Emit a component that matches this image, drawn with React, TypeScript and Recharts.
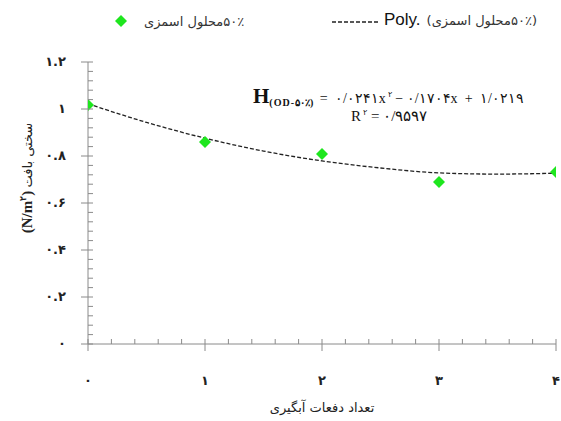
import React from "react";
import { ComposedChart, Line, Scatter, XAxis, YAxis } from "recharts";

// measured points (50% osmotic solution)
const DIPS = [0, 1, 2, 3, 4];
const HARDNESS = [1.017, 0.86, 0.809, 0.689, 0.732];

// polynomial trend line
const TREND_X = [0, 0.5, 1, 1.5, 2, 2.5, 3, 3.5, 4];
const TREND_H = [1.022, 0.943, 0.876, 0.821, 0.779, 0.749, 0.728, 0.723, 0.727];

const X_LABELS = ["۰", "۱", "۲", "۳", "۴"];
const Y_LABELS = ["۰", "۰.۲", "۰.۴", "۰.۶", "۰.۸", "۱", "۱.۲"];

const X_TICKS = Array.from({ length: 21 }, (_, i) => i * 0.2);
const Y_TICKS = Array.from({ length: 31 }, (_, i) => i * 0.04);

const points = DIPS.map((x, i) => ({ x, h: HARDNESS[i] }));
const trend = TREND_X.map((x, i) => ({ x, h: TREND_H[i] }));

const AXIS_COLOR = "#8a8a8a";
const GREEN = "#1ee61e";
const PERSIAN = "'DejaVu Sans', sans-serif";

function XTick({ x, y, payload }: any) {
  const v = payload.value;
  const major = Math.abs(v - Math.round(v)) < 1e-6;
  return (
    <g>
      <line x1={x} x2={x} y1={y - 5} y2={major ? y + 7 : y} stroke={AXIS_COLOR} />
      {major && (
        <text x={x} y={y + 41} textAnchor="middle" fontSize={13} fontWeight="bold" fill="#222" fontFamily={PERSIAN}>
          {X_LABELS[Math.round(v)]}
        </text>
      )}
    </g>
  );
}

function YTick({ x, y, payload }: any) {
  const v = payload.value / 0.2;
  const major = Math.abs(v - Math.round(v)) < 1e-6;
  return (
    <g>
      <line x1={major ? x - 7 : x} x2={x + 5} y1={y} y2={y} stroke={AXIS_COLOR} />
      {major && (
        <text x={x - 22} y={y + 4} textAnchor="end" fontSize={13} fontWeight="bold" fill="#222" fontFamily={PERSIAN}>
          {Y_LABELS[Math.round(v)]}
        </text>
      )}
    </g>
  );
}

function Diamond({ cx, cy }: any) {
  const r = 6;
  return <polygon points={`${cx},${cy - r} ${cx + r},${cy} ${cx},${cy + r} ${cx - r},${cy}`} fill={GREEN} />;
}

export default function App() {
  return (
    <div style={{ position: "relative", width: 561, height: 421, background: "#fff" }}>
      <style>{"body{margin:0}"}</style>
      <ComposedChart width={561} height={421} margin={{ top: 62, right: 5, bottom: 0, left: 0 }}>
        <XAxis
          type="number"
          dataKey="x"
          domain={[0, 4]}
          ticks={X_TICKS}
          interval={0}
          tickSize={0}
          tickMargin={0}
          tick={<XTick />}
          height={77}
          stroke={AXIS_COLOR}
          allowDataOverflow
        />
        <YAxis
          type="number"
          dataKey="h"
          domain={[0, 1.2]}
          ticks={Y_TICKS}
          interval={0}
          tickSize={0}
          tickMargin={0}
          tick={<YTick />}
          width={88}
          stroke={AXIS_COLOR}
          allowDataOverflow
        />
        <Line
          data={trend}
          dataKey="h"
          type="monotone"
          stroke="#222"
          strokeWidth={1.3}
          strokeDasharray="4 2"
          dot={false}
          isAnimationActive={false}
        />
        <Scatter data={points} dataKey="h" shape={<Diamond />} isAnimationActive={false} />
      </ComposedChart>

      {/* legend */}
      <div style={{ position: "absolute", left: 114, top: 12, height: 18, display: "flex", alignItems: "center", whiteSpace: "nowrap", direction: "ltr" }}>
        <svg width={14} height={14}>
          <polygon points="7,1 13,7 7,13 1,7" fill={GREEN} />
        </svg>
        <span style={{ marginLeft: 16, fontFamily: PERSIAN, fontSize: 13, color: "#333" }}>
          <span dir="rtl" style={{ unicodeBidi: "isolate" }}>محلول اسمزی</span>
          <span style={{ unicodeBidi: "isolate" }}>۵۰٪</span>
        </span>
      </div>
      <div style={{ position: "absolute", left: 332, top: 10, height: 20, display: "flex", alignItems: "center", whiteSpace: "nowrap", direction: "ltr" }}>
        <svg width={48} height={10}>
          <line x1={0} x2={48} y1={7} y2={7} stroke="#222" strokeWidth={1.3} strokeDasharray="4 2" />
        </svg>
        <span style={{ marginLeft: 4, fontFamily: "'Liberation Sans', Arial, sans-serif", fontSize: 17, color: "#111" }}>Poly.</span>
        <span style={{ marginLeft: 6, fontFamily: PERSIAN, fontSize: 13, color: "#333" }}>
          (<span dir="rtl" style={{ unicodeBidi: "isolate" }}>محلول اسمزی</span>
          <span style={{ unicodeBidi: "isolate" }}>۵۰٪</span>)
        </span>
      </div>

      {/* trend equation */}
      <div style={{ position: "absolute", left: 253, top: 84, whiteSpace: "nowrap", direction: "ltr", fontFamily: "'Liberation Serif', serif", fontSize: 14, color: "#111" }}>
        <span style={{ fontSize: 21, fontWeight: "bold" }}>H</span>
        <span style={{ fontSize: 10, fontWeight: "bold", verticalAlign: "-3px", letterSpacing: 1 }}>(OD-۵۰٪)</span>
        <span style={{ letterSpacing: 1.9 }}> = ۰/۰۲۴۱x<sup style={{ fontSize: 8 }}>۲</sup> − ۰/۱۷۰۴x + ۱/۰۲۱۹</span>
      </div>
      <div style={{ position: "absolute", left: 351, top: 107, whiteSpace: "nowrap", direction: "ltr", fontFamily: "'Liberation Serif', serif", fontSize: 15, color: "#111", letterSpacing: 2.2 }}>
        R<sup style={{ fontSize: 8 }}>۲</sup> = ۰/۹۵۹۷
      </div>

      {/* axis titles */}
      <div style={{ position: "absolute", left: 322, top: 400, transform: "translateX(-50%)", whiteSpace: "nowrap", fontFamily: PERSIAN, fontSize: 13, color: "#222" }}>
        <span dir="rtl">تعداد دفعات آبگیری</span>
      </div>
      <div style={{ position: "absolute", left: 27, top: 178, transform: "translate(-50%, -50%) rotate(-90deg)", whiteSpace: "nowrap", fontSize: 13, color: "#222", direction: "ltr" }}>
        <span style={{ fontFamily: "'Liberation Serif', serif", fontWeight: "bold", fontSize: 15 }}>
          (N/m<sup style={{ fontSize: 9 }}>۲</sup>)
        </span>{" "}
        <span dir="rtl" style={{ unicodeBidi: "isolate", fontFamily: PERSIAN }}>سختی بافت</span>
      </div>
    </div>
  );
}
